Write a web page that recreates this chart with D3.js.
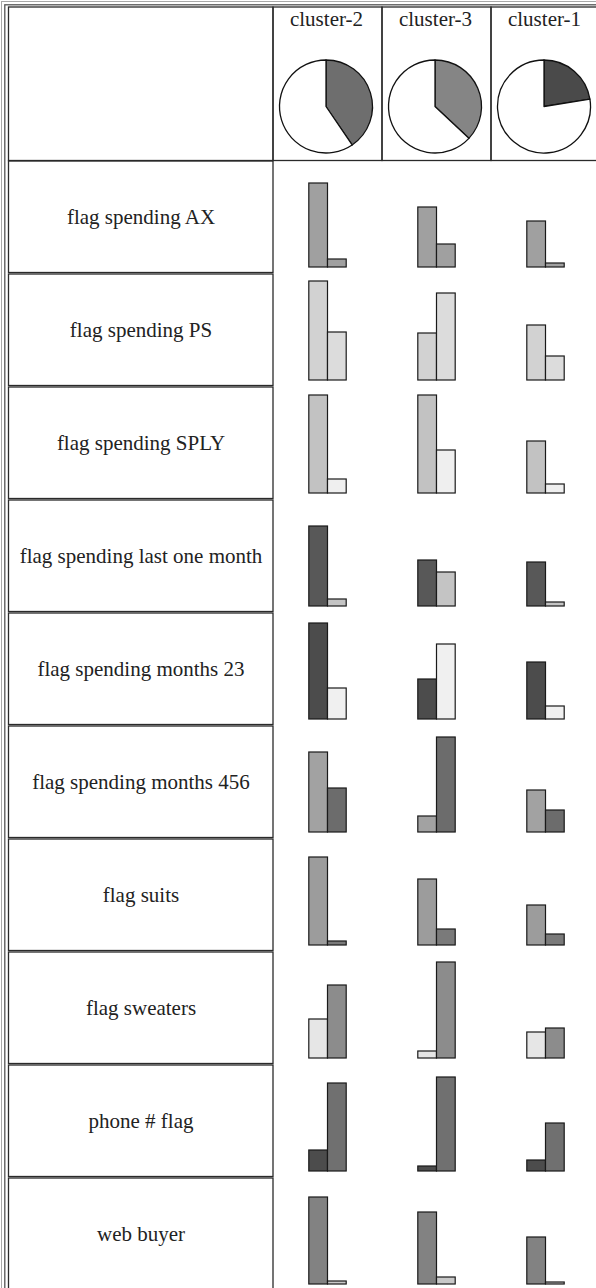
<!DOCTYPE html>
<html>
<head>
<meta charset="utf-8">
<script src="https://cdn.jsdelivr.net/npm/d3@7"></script>
<style>
  html, body { margin: 0; padding: 0; background: #fff; }
  svg { display: block; }
</style>
</head>
<body>
<script>
// ---- data ----
const clusters = ["cluster-2", "cluster-3", "cluster-1"];
const clusterShare = [40.5, 37.0, 22.5];           // percent of records
const features = [
  "flag spending AX",
  "flag spending PS",
  "flag spending SPLY",
  "flag spending last one month",
  "flag spending months 23",
  "flag spending months 456",
  "flag suits",
  "flag sweaters",
  "phone # flag",
  "web buyer"
];
// first bar of each pair, per cluster (cluster-2, cluster-3, cluster-1)
const firstBar = [
  [84, 60, 46],
  [99, 47, 55],
  [98, 98, 52],
  [80, 46, 44],
  [96, 40, 57],
  [80, 16, 42],
  [88, 66, 40],
  [39,  7, 26],
  [21,  5, 11],
  [87, 72, 47]
];
// second bar of each pair
const secondBar = [
  [ 8, 23,  4],
  [48, 87, 24],
  [14, 43,  9],
  [ 7, 34,  4],
  [31, 75, 13],
  [44, 95, 22],
  [ 4, 16, 11],
  [73, 96, 30],
  [88, 94, 48],
  [ 3,  7,  2]
];
// ---- styles ----
const firstColor  = ["#a0a0a0","#d2d2d2","#c2c2c2","#585858","#4c4c4c","#a2a2a2","#9c9c9c","#e6e6e6","#4c4c4c","#828282"];
const secondColor = ["#a0a0a0","#dcdcdc","#efefef","#c4c4c4","#f0f0f0","#6c6c6c","#7a7a7a","#8c8c8c","#707070","#c8c8c8"];
const pieColor = ["#6e6e6e", "#858585", "#4a4a4a"];
const FONT = "'Liberation Serif'";

const W = 596, H = 1288;
const svg = d3.select("body").append("svg").attr("width", W).attr("height", H);

const labelLeft = 8, labelRight = 273, headTop = 7, headBottom = 160.5;
const rowStep = 113, rowTop0 = 161;

const rowScale = d3.scaleBand().domain(features)
  .range([rowTop0, rowTop0 + rowStep * features.length]).padding(0);
const colScale = d3.scaleBand().domain(clusters).range([273, 600]).padding(0);
const barW = 18.7;
const hScale = d3.scaleLinear().domain([0, 100]).range([0, 100]);
const barBottomOffset = 106;

// outer double border
svg.append("rect").attr("x", 1.5).attr("y", 1.5).attr("width", W + 10).attr("height", H + 10)
  .attr("fill", "none").attr("stroke", "#a8a8a8").attr("stroke-width", 1);
svg.append("rect").attr("x", 4.8).attr("y", 4.8).attr("width", W + 10).attr("height", H + 10)
  .attr("fill", "none").attr("stroke", "#555").attr("stroke-width", 1.3);

// header label cell
svg.append("rect").attr("x", labelLeft + 0.5).attr("y", headTop)
  .attr("width", labelRight - labelLeft - 0.5).attr("height", headBottom - headTop)
  .attr("fill", "none").attr("stroke", "#2a2a2a").attr("stroke-width", 1.3);

// header cluster cells
const head = svg.selectAll("g.head").data(clusters).join("g").attr("class", "head");
head.append("rect")
  .attr("x", d => colScale(d)).attr("y", headTop)
  .attr("width", colScale.bandwidth()).attr("height", headBottom - headTop)
  .attr("fill", "none").attr("stroke", "#2a2a2a").attr("stroke-width", 1.3);
head.append("text")
  .attr("x", d => colScale(d) + colScale.bandwidth() / 2 - 1)
  .attr("y", 26).attr("text-anchor", "middle")
  .style("font-family", FONT).style("font-size", "21px").style("fill", "#222")
  .text(d => d);

const arc = d3.arc().innerRadius(0).outerRadius(46.5);
const pie = d3.pie().sort(null).value(d => d);
head.each(function(d, i) {
  const g = d3.select(this).append("g")
    .attr("transform", `translate(${colScale(d) + colScale.bandwidth() / 2 - 1.5},106.5)`);
  g.selectAll("path").data(pie([clusterShare[i], 100 - clusterShare[i]])).join("path")
    .attr("d", arc)
    .attr("fill", (p, j) => j === 0 ? pieColor[i] : "#fff")
    .attr("stroke", "#111").attr("stroke-width", 1.3).attr("stroke-linejoin", "round");
});

// body rows
const rows = svg.selectAll("g.row").data(features).join("g").attr("class", "row");
rows.append("rect")
  .attr("x", labelLeft + 0.5).attr("y", d => rowScale(d))
  .attr("width", labelRight - labelLeft - 0.5).attr("height", rowScale.bandwidth() - 1.5)
  .attr("fill", "none").attr("stroke", "#2a2a2a").attr("stroke-width", 1.3);
rows.append("text")
  .attr("x", (labelLeft + labelRight) / 2 + 0.5)
  .attr("y", d => rowScale(d) + rowScale.bandwidth() / 2 - 0.5)
  .attr("dy", "0.35em").attr("text-anchor", "middle")
  .style("font-family", FONT).style("font-size", "21px").style("fill", "#222")
  .text(d => d);

rows.each(function(f, r) {
  const g = d3.select(this);
  const bottom = rowScale(f) + barBottomOffset;
  clusters.forEach((c, ci) => {
    const cx = colScale(c) + colScale.bandwidth() / 2;
    const pair = [
      { v: firstBar[r][ci], x: cx - barW, fill: firstColor[r] },
      { v: secondBar[r][ci], x: cx, fill: secondColor[r] }
    ];
    g.selectAll(null).data(pair).join("rect")
      .attr("x", d => d.x).attr("width", barW)
      .attr("y", d => bottom - hScale(d.v)).attr("height", d => hScale(d.v))
      .attr("fill", d => d.fill)
      .attr("stroke", "#1a1a1a").attr("stroke-width", 1.2);
  });
});
</script>
</body>
</html>
